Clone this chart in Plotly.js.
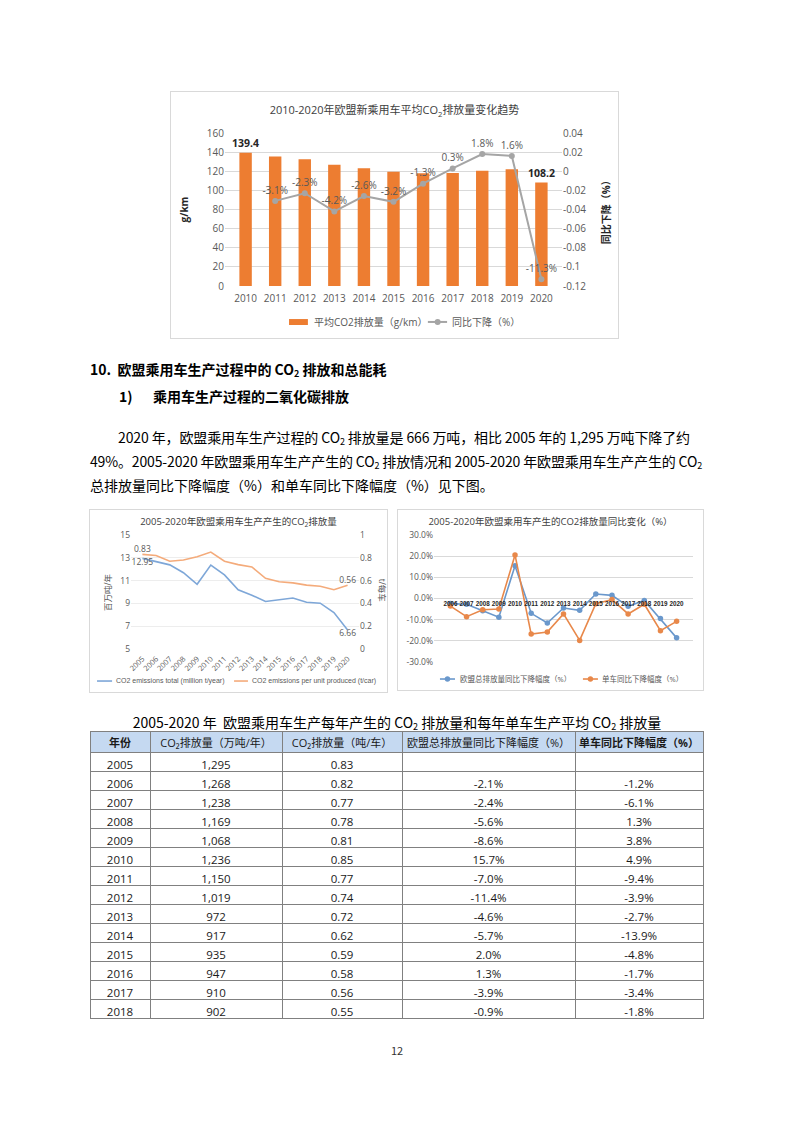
<!DOCTYPE html>
<html>
<head>
<meta charset="utf-8">
<script src="https://cdn.plot.ly/plotly-3.0.1.min.js"></script>
<style>
  html, body { margin:0; padding:0; background:#fff; }
  #page { position:relative; width:794px; height:1122px; background:#fff; font-family:"Noto Sans CJK SC","Noto Sans",sans-serif; color:#000; overflow:hidden; }
  .box { position:absolute; border:1px solid #D9D9D9; box-sizing:border-box; background:#fff; }
  .chart { position:absolute; left:0; top:0; }
  .txt { position:absolute; white-space:nowrap; font-size:14px; line-height:20px; }
  sub { font-size:9px; vertical-align:-2px; line-height:0; }
</style>
</head>
<body>
<div id="page">
  <div class="box" style="left:170px;top:91px;width:449px;height:248px;"><div id="c1" class="chart"></div></div>

  <div class="txt" style="left:90px;top:359px;font-weight:bold;">10.&nbsp;&nbsp;欧盟乘用车生产过程中的 CO<sub>2</sub> 排放和总能耗</div>
  <div class="txt" style="left:119px;top:386px;font-weight:bold;">1)</div>
  <div class="txt" style="left:153px;top:386px;font-weight:bold;">乘用车生产过程的二氧化碳排放</div>
  <div class="txt fit" data-w="572" style="left:118px;top:427px;">2020 年，欧盟乘用车生产过程的 CO<sub>2</sub> 排放量是 666 万吨，相比 2005 年的 1,295 万吨下降了约</div>
  <div class="txt fit" data-w="612" style="left:90px;top:451px;">49%。2005-2020 年欧盟乘用车生产产生的 CO<sub>2</sub> 排放情况和 2005-2020 年欧盟乘用车生产产生的 CO<sub>2</sub></div>
  <div class="txt" style="left:90px;top:475px;">总排放量同比下降幅度（%）和单车同比下降幅度（%）见下图。</div>

  <div class="box" style="left:89px;top:509px;width:299px;height:184px;"><div id="c2" class="chart"></div></div>
  <div class="box" style="left:397px;top:509px;width:307px;height:182px;"><div id="c3" class="chart"></div></div>

  <div class="txt" style="left:0;width:794px;text-align:center;top:712px;">2005-2020 年&nbsp;&nbsp;欧盟乘用车生产每年产生的 CO<sub>2</sub> 排放量和每年单车生产平均 CO<sub>2</sub> 排放量</div>
  <div id="tbl" style="position:absolute;left:89px;top:730px;width:615px;height:300px;"></div>

  <div class="txt" style="left:0;width:794px;text-align:center;top:1040px;font-size:11px;color:#333;">12</div>
</div>

<script>
// ---------- Chart 1 data ----------
const years1 = ['2010','2011','2012','2013','2014','2015','2016','2017','2018','2019','2020'];
const avgCO2 = [139.4, 135.3, 132.5, 126.7, 123.1, 119.4, 117.8, 118.2, 120.6, 122.1, 108.2];
const avgCO2Labels = ['139.4','','','','','','','','','','108.2'];
const yoyAvg = [null, -0.031, -0.023, -0.042, -0.026, -0.032, -0.013, 0.003, 0.018, 0.016, -0.113];
const yoyAvgLabels = ['', '-3.1%', '-2.3%', '-4.2%', '-2.6%', '-3.2%', '-1.3%', '0.3%', '1.8%', '1.6%', '-11.3%'];
const y1Ticks = [0,20,40,60,80,100,120,140,160];
const y2Ticks = [-0.12,-0.1,-0.08,-0.06,-0.04,-0.02,0,0.02,0.04];
const y2TickText = ['-0.12','-0.1','-0.08','-0.06','-0.04','-0.02','0','0.02','0.04'];
const c1LegendNames = ['平均CO2排放量（g/km）','同比下降（%）'];

// ---------- Chart 2 data ----------
const years2 = ['2005','2006','2007','2008','2009','2010','2011','2012','2013','2014','2015','2016','2017','2018','2019','2020'];
const totalMt = [12.95, 12.68, 12.38, 11.69, 10.68, 12.36, 11.50, 10.19, 9.72, 9.17, 9.35, 9.47, 9.10, 9.02, 8.20, 6.66];
const perUnit = [0.83, 0.82, 0.77, 0.78, 0.81, 0.85, 0.77, 0.74, 0.72, 0.62, 0.59, 0.58, 0.56, 0.55, 0.52, 0.56];
const totalLabels = ['12.95','','','','','','','','','','','','','','','6.66'];
const perUnitLabels = ['0.83','','','','','','','','','','','','','','','0.56'];
const c2LeftTicks = [5,7,9,11,13,15];
const c2RightTicks = [0,0.2,0.4,0.6,0.8,1];
const c2RightText = ['0','0.2','0.4','0.6','0.8','1'];
const c2LegendNames = ['CO2 emissions total (million t/year)','CO2 emissions per unit produced (t/car)'];

// ---------- Chart 3 data ----------
const years3 = ['2006','2007','2008','2009','2010','2011','2012','2013','2014','2015','2016','2017','2018','2019','2020'];
const yoyTotal = [-2.4, -2.7, -5.8, -8.8, 15.5, -7.0, -11.6, -4.5, -5.6, 2.1, 1.5, -3.7, -0.9, -9.5, -18.6];
const yoyUnit = [-3.6, -8.6, -5.3, -5.0, 20.6, -16.8, -15.8, -7.3, -19.8, -2.5, -0.5, -7.3, -2.7, -15.2, -10.8];
const c3Ticks = [-30,-20,-10,0,10,20,30];
const c3TickText = ['-30.0%','-20.0%','-10.0%','0.0%','10.0%','20.0%','30.0%'];
const c3LegendNames = ['欧盟总排放量同比下降幅度（%）','单车同比下降幅度（%）'];

// ---------- Table data ----------
const tblHeader = ['年份','CO₂排放量（万吨/年）','CO₂排放量（吨/车）','欧盟总排放量同比下降幅度（%）','单车同比下降幅度（%）'];
const tblYears = ['2005','2006','2007','2008','2009','2010','2011','2012','2013','2014','2015','2016','2017','2018'];
const tblTotal = ['1,295','1,268','1,238','1,169','1,068','1,236','1,150','1,019','972','917','935','947','910','902'];
const tblPerUnit = ['0.83','0.82','0.77','0.78','0.81','0.85','0.77','0.74','0.72','0.62','0.59','0.58','0.56','0.55'];
const tblTotalYoy = ['','-2.1%','-2.4%','-5.6%','-8.6%','15.7%','-7.0%','-11.4%','-4.6%','-5.7%','2.0%','1.3%','-3.9%','-0.9%'];
const tblUnitYoy = ['','-1.2%','-6.1%','1.3%','3.8%','4.9%','-9.4%','-3.9%','-2.7%','-13.9%','-4.8%','-1.7%','-3.4%','-1.8%'];

const FONT = 'Open Sans, Noto Sans CJK SC, sans-serif';
const GREY = '#595959';
const cfg = {staticPlot:true, displayModeBar:false};

// legend helpers (paper coordinates)
function legLine(x0, x1, y, color, width) {
  return {type:'line', xref:'paper', yref:'paper', x0:x0, x1:x1, y0:y, y1:y, line:{color:color, width:width}};
}
function legDot(x, y, color, r) {
  return {type:'circle', xref:'paper', yref:'paper', xsizemode:'pixel', ysizemode:'pixel', xanchor:x, yanchor:y,
          x0:-r, x1:r, y0:-r, y1:r, fillcolor:color, line:{color:color, width:0}};
}
function legText(x, y, text, size, family) {
  return {text:text, xref:'paper', yref:'paper', x:x, y:y, xanchor:'left', yanchor:'middle', showarrow:false,
          font:{size:size, color:GREY, family:family || FONT}};
}

// ---------- Chart 1 ----------
Plotly.newPlot('c1', [
  {type:'bar', name:c1LegendNames[0], x:years1, y:avgCO2, marker:{color:'#ED7D31'},
   text:avgCO2Labels, textposition:'outside', cliponaxis:false, constraintext:'none',
   textfont:{size:10.5, color:'#262626', family:FONT, weight:'bold'}},
  {type:'scatter', mode:'lines+markers+text', name:c1LegendNames[1], x:years1, y:yoyAvg, yaxis:'y2',
   line:{color:'#A5A5A5', width:2}, marker:{color:'#A5A5A5', size:6},
   text:yoyAvgLabels, textposition:'top center', textfont:{size:10, color:GREY, family:FONT}, cliponaxis:false}
], {
  width:447, height:246, margin:{l:54, r:56, t:41, b:52},
  paper_bgcolor:'#fff', plot_bgcolor:'#fff', font:{family:FONT, color:GREY},
  title:{text:'2010-2020年欧盟新乘用车平均CO<sub>2</sub>排放量变化趋势', font:{size:11, color:'#404040'}, x:0.5, xanchor:'center', y:0.925, yanchor:'middle'},
  bargap:0.58, showlegend:false,
  xaxis:{type:'category', tickfont:{size:10, color:GREY}, showline:false, ticks:'', showgrid:false, ticklabelstandoff:5},
  yaxis:{range:[0,160], tickvals:y1Ticks, tickfont:{size:10, color:GREY}, gridcolor:'#D9D9D9', zeroline:false, showline:false, ticks:''},
  yaxis2:{overlaying:'y', side:'right', range:[-0.12,0.04], tickvals:y2Ticks, ticktext:y2TickText, tickfont:{size:10, color:GREY}, showgrid:false, zeroline:false, showline:false, ticks:''},
  shapes:[
    {type:'rect', xref:'paper', yref:'paper', x0:0.190, x1:0.246, y0:-0.255, y1:-0.216, fillcolor:'#ED7D31', line:{width:0}},
    legLine(0.602, 0.659, -0.235, '#A5A5A5', 2),
    legDot(0.631, -0.235, '#A5A5A5', 3)
  ],
  annotations:[
    {text:'<b>g/km</b>', xref:'paper', yref:'paper', x:-0.122, y:0.5, xanchor:'center', yanchor:'middle', showarrow:false, textangle:-90, font:{size:10, color:'#262626'}},
    {text:'<b>同比下降（%）</b>', xref:'paper', yref:'paper', x:1.13, y:0.5, xanchor:'center', yanchor:'middle', showarrow:false, textangle:-90, font:{size:10, color:'#262626'}},
    legText(0.258, -0.235, c1LegendNames[0], 10),
    legText(0.668, -0.235, c1LegendNames[1], 10)
  ]
}, cfg);

// ---------- Chart 2 ----------
const LEGF2 = 'Liberation Sans, Arial, sans-serif';
Plotly.newPlot('c2', [
  {type:'scatter', mode:'lines+text', name:c2LegendNames[0], x:years2, y:totalMt,
   line:{color:'#7EA7D8', width:1.6}, text:totalLabels, textposition:'bottom center', textfont:{size:8.5, color:GREY}, cliponaxis:false},
  {type:'scatter', mode:'lines+text', name:c2LegendNames[1], x:years2, y:perUnit, yaxis:'y2',
   line:{color:'#F4AB7B', width:1.6}, text:perUnitLabels, textposition:'top center', textfont:{size:8.5, color:GREY}, cliponaxis:false}
], {
  width:297, height:182, margin:{l:41, r:28, t:25, b:43},
  paper_bgcolor:'#fff', plot_bgcolor:'#fff', font:{family:FONT, color:GREY},
  title:{text:'2005-2020年欧盟乘用车生产产生的CO<sub>2</sub>排放量', font:{size:9.5, color:'#404040'}, x:0.5, xanchor:'center', y:0.934, yanchor:'middle'},
  showlegend:false,
  xaxis:{type:'category', tickangle:-45, tickfont:{size:7.5, color:GREY}, showline:false, ticks:'', showgrid:false, ticklabelstandoff:3},
  yaxis:{range:[5,15], tickvals:c2LeftTicks, tickfont:{size:8.5, color:GREY}, gridcolor:'#EDEDED', zeroline:false, showline:false, ticks:''},
  yaxis2:{overlaying:'y', side:'right', range:[0,1], tickvals:c2RightTicks, ticktext:c2RightText, tickfont:{size:8.5, color:GREY}, showgrid:false, zeroline:false, showline:false, ticks:''},
  shapes:[
    legLine(-0.149, -0.083, -0.281, '#7EA7D8', 1.6),
    legLine(0.452, 0.513, -0.281, '#F4AB7B', 1.6)
  ],
  annotations:[
    {text:'百万吨/年', xref:'paper', yref:'paper', x:-0.105, y:0.5, xanchor:'center', yanchor:'middle', showarrow:false, textangle:-90, font:{size:8.5, color:GREY}},
    {text:'t/每车', xref:'paper', yref:'paper', x:1.101, y:0.52, xanchor:'center', yanchor:'middle', showarrow:false, textangle:90, font:{size:8.5, color:GREY}},
    legText(-0.075, -0.281, c2LegendNames[0], 7, LEGF2),
    legText(0.522, -0.281, c2LegendNames[1], 7, LEGF2)
  ]
}, cfg);

// ---------- Chart 3 ----------
Plotly.newPlot('c3', [
  {type:'scatter', mode:'lines+markers', name:c3LegendNames[0], x:years3, y:yoyTotal,
   line:{color:'#6A98CC', width:1.6}, marker:{color:'#6A98CC', size:5.5}},
  {type:'scatter', mode:'lines+markers', name:c3LegendNames[1], x:years3, y:yoyUnit,
   line:{color:'#E8884A', width:1.6}, marker:{color:'#E8884A', size:5.5}}
], {
  width:305, height:180, margin:{l:36, r:10, t:25, b:28},
  paper_bgcolor:'#fff', plot_bgcolor:'#fff', font:{family:FONT, color:GREY},
  title:{text:'2005-2020年欧盟乘用车产生的CO2排放量同比变化（%）', font:{size:9.5, color:'#404040'}, x:0.5, xanchor:'center', y:0.933, yanchor:'middle'},
  showlegend:false,
  xaxis:{type:'category', anchor:'free', position:0.5, tickangle:0, tickfont:{size:6.3, color:'#262626', weight:'bold', family:'Liberation Sans, Arial, sans-serif'}, showline:false, ticks:'', showgrid:false, zeroline:false},
  yaxis:{range:[-30,30], tickvals:c3Ticks, ticktext:c3TickText, tickfont:{size:8.5, color:GREY}, gridcolor:'#D9D9D9', zeroline:false, showline:false, ticks:''},
  shapes:[
    legLine(0.023, 0.081, -0.134, '#6A98CC', 1.6),
    legDot(0.052, -0.134, '#6A98CC', 2.7),
    legLine(0.575, 0.633, -0.134, '#E8884A', 1.6),
    legDot(0.604, -0.134, '#E8884A', 2.7)
  ],
  annotations:[
    legText(0.093, -0.134, c3LegendNames[0], 7.5),
    legText(0.641, -0.134, c3LegendNames[1], 7.5)
  ]
}, cfg);

// ---------- Table ----------
Plotly.newPlot('tbl', [{
  type:'table',
  columnwidth:[60,132,120,173,128],
  header:{values:tblHeader, align:'center', height:21, fill:{color:'#C5D9F1'}, line:{color:'#808080', width:1},
          font:{family:FONT, size:11, color:'#1a1a1a', weight:[700,400,400,400,700]}},
  cells:{values:[tblYears, tblTotal, tblPerUnit, tblTotalYoy, tblUnitYoy], align:'center', height:19,
         fill:{color:'#fff'}, line:{color:'#808080', width:1}, font:{family:FONT, size:11.5, color:'#1a1a1a'}}
}], {
  width:615, height:300, margin:{l:1, r:1, t:1, b:1}, paper_bgcolor:'rgba(0,0,0,0)'
}, cfg);

// fit justified paragraph lines to their widths
document.querySelectorAll('.fit').forEach(function(el) {
  const target = +el.dataset.w;
  el.style.letterSpacing = '0px';
  const w = el.getBoundingClientRect().width;
  const n = el.textContent.length;
  el.style.letterSpacing = ((target - w) / n) + 'px';
});
</script>
</body>
</html>
